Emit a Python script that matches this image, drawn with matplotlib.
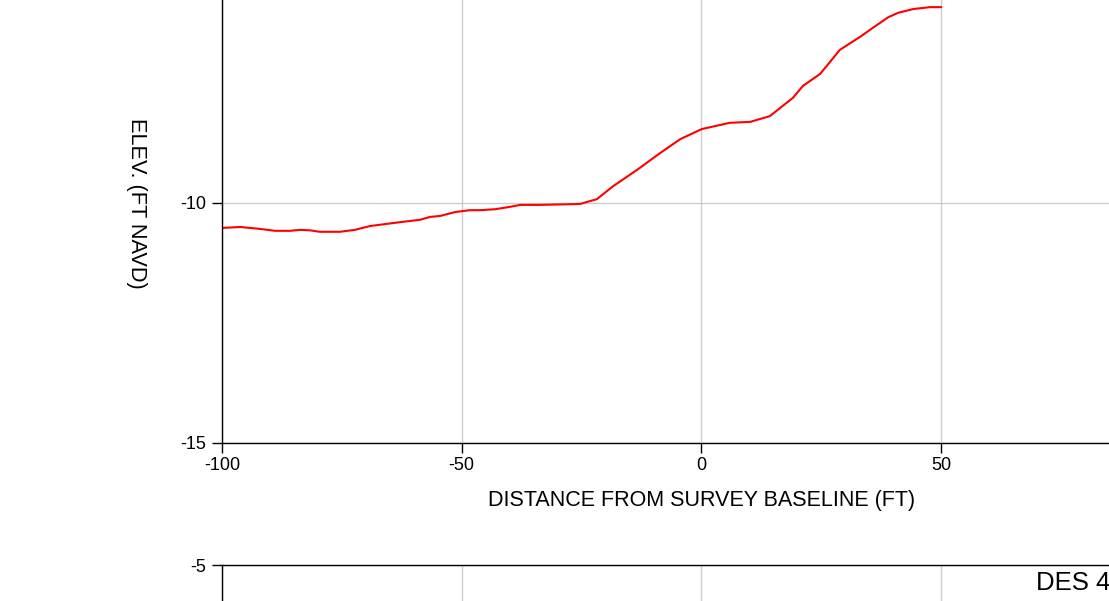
import matplotlib.pyplot as plt
import numpy as np

# ----- ----- DATA ----- -----
dist_ft = [-100, -96.2, -92.1, -88.9, -85.8, -83.7, -81.6, -79.6, -75.4, -72.3,
           -69.1, -66.0, -62.9, -58.7, -56.6, -54.5, -51.4, -48.3, -46.2, -43.0,
           -39.9, -37.8, -33.7, -29.5, -25.3, -21.8, -18.4, -13.4, -8.6, -4.4,
           0.1, 5.9, 10.2, 14.3, 19.1, 21.2, 24.8, 28.9, 33.1, 35.8,
           39.0, 41.0, 44.2, 47.7, 50.0]
elev_ft = [-10.52, -10.50, -10.54, -10.58, -10.58, -10.56, -10.57, -10.60, -10.60, -10.56,
           -10.48, -10.44, -10.40, -10.35, -10.29, -10.27, -10.19, -10.15, -10.15, -10.13,
           -10.08, -10.04, -10.04, -10.03, -10.02, -9.92, -9.65, -9.31, -8.96, -8.67,
           -8.46, -8.33, -8.31, -8.19, -7.81, -7.56, -7.31, -6.81, -6.54, -6.35,
           -6.13, -6.04, -5.96, -5.92, -5.92]

x_ticks = [-100, -50, 0, 50, 100]
y_ticks = [-15, -10, -5]
panel2_label = 'DES 4'

plt.rcParams['font.family'] = ['Liberation Sans', 'DejaVu Sans']
plt.rcParams['axes.unicode_minus'] = False

fig = plt.figure(figsize=(11.09, 6.01), dpi=100)

# ----- ----- AXES (the picture is a crop of a taller page) ----- -----
ax1 = fig.add_axes([0.2002, 0.2629, 0.8644, 0.7987])
ax2 = fig.add_axes([0.2002, -0.7388, 0.8644, 0.7987])

for ax in (ax1, ax2):
    ax.set_xlim(-100, 100)
    ax.set_ylim(-15, -5)
    ax.set_xticks(x_ticks)
    ax.set_yticks(y_ticks)
    ax.grid(True, color='#cccccc', linewidth=1.0)
    ax.set_axisbelow(True)
    for s in ax.spines.values():
        s.set_color('black')
        s.set_linewidth(1.0)
    ax.tick_params(direction='out', length=7, width=1.0, labelsize=13)
    ax.tick_params(axis='x', pad=3.3)
    ax.tick_params(axis='y', pad=4.5)

ax1.plot(dist_ft, elev_ft, color='red', linewidth=1.5)
ax1.set_xlabel('DISTANCE FROM SURVEY BASELINE (FT)', fontsize=15.5, labelpad=11)
ax1.set_ylabel('ELEV. (FT NAVD)', fontsize=15.7, rotation=270, ha='center', va='center')
ax1.yaxis.set_label_coords(-0.0887, 0.5)

ax2.text(69.8, -5.13, panel2_label, fontsize=18.5, ha='left', va='top')

fig.savefig('out.png', dpi=100)
